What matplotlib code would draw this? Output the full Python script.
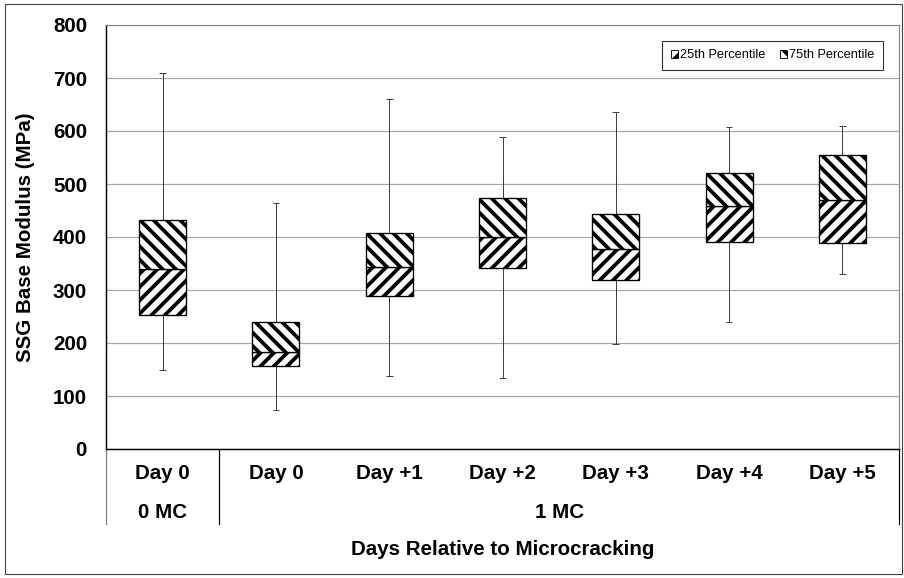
import matplotlib
matplotlib.use("Agg")
import matplotlib.pyplot as plt
import matplotlib.transforms as mtransforms
from matplotlib.patches import Patch, Rectangle
import numpy as np

# categories (two-level x axis)
DAYS = ["Day 0", "Day 0", "Day +1", "Day +2", "Day +3", "Day +4", "Day +5"]
GROUPS = ["0 MC", "1 MC"]
GROUP_SIZES = [1, 6]

# SSG base modulus (MPa)
P_MIN = [149, 73, 138, 134, 198, 240, 330]
P_25 = [253, 157, 289, 341, 319, 391, 389]
P_50 = [340, 183, 344, 400, 377, 458, 470]
P_75 = [433, 240, 407, 474, 443, 521, 555]
P_MAX = [709, 465, 660, 589, 636, 607, 609]

YTICKS = [0, 100, 200, 300, 400, 500, 600, 700, 800]

DPI = 80
W, H = 904, 578
FS = 18.5

plt.rcParams["font.family"] = ["Liberation Sans", "DejaVu Sans"]
plt.rcParams["hatch.linewidth"] = 3.4
plt.rcParams["hatch.color"] = "black"


def main():
    fig = plt.figure(figsize=(W / DPI, H / DPI), dpi=DPI)
    fig.patch.set_facecolor("white")
    ax = fig.add_axes([106 / W, 1 - 449 / H, (899 - 106) / W, (449 - 25) / H])

    x = np.arange(len(DAYS))
    box_w = 0.415
    cap = 0.03

    # whiskers
    ax.vlines(x, P_MIN, P_MAX, color="#404040", lw=0.9, zorder=2)
    ax.hlines(P_MIN, x - cap, x + cap, color="#404040", lw=0.9, zorder=2)
    ax.hlines(P_MAX, x - cap, x + cap, color="#404040", lw=0.9, zorder=2)

    # boxes: lower half (25th -> median) and upper half (median -> 75th)
    ax.bar(x, np.subtract(P_50, P_25), bottom=P_25, width=box_w,
           color="white", edgecolor="black", hatch="//", lw=1.2, zorder=3)
    ax.bar(x, np.subtract(P_75, P_50), bottom=P_50, width=box_w,
           color="white", edgecolor="black", hatch="\\\\", lw=1.2, zorder=3)

    ax.set_xlim(-0.5, len(DAYS) - 0.5)
    ax.set_ylim(0, 800)
    ax.set_yticks(YTICKS)
    ax.set_yticklabels([str(v) for v in YTICKS], fontsize=FS, fontweight="bold")
    ax.tick_params(axis="y", length=0, pad=17)
    ax.set_xticks([])
    ax.set_axisbelow(True)
    ax.yaxis.grid(True, color="#a6a6a6", lw=1.1)

    for side in ["left", "bottom"]:
        ax.spines[side].set_color("black")
        ax.spines[side].set_linewidth(1.3)
    for side in ["top", "right"]:
        ax.spines[side].set_color("#808080")
        ax.spines[side].set_linewidth(1.0)

    # two-level category labels under the axis
    trans = mtransforms.blended_transform_factory(ax.transData, ax.transAxes)
    for i, lab in enumerate(DAYS):
        ax.text(i, -0.058, lab, transform=trans, ha="center", va="center",
                fontsize=FS, fontweight="bold", clip_on=False)

    start = 0
    edges = [-0.5]
    for g, n in zip(GROUPS, GROUP_SIZES):
        center = start + (n - 1) / 2
        ax.text(center, -0.149, g, transform=trans, ha="center", va="center",
                fontsize=FS, fontweight="bold", clip_on=False)
        start += n
        edges.append(start - 0.5)

    for k, e in enumerate(edges):
        ax.plot([e, e], [0, -0.177], transform=trans, clip_on=False,
                color="#808080" if k == 0 else "black", lw=1.1)

    ax.text(0.5, -0.238, "Days Relative to Microcracking", transform=ax.transAxes,
            ha="center", va="center", fontsize=FS, fontweight="bold")

    fig.text(26 / W, 1 - 237 / H, "SSG Base Modulus (MPa)", rotation=90,
             ha="center", va="center", fontsize=FS, fontweight="bold")

    handles = [
        Patch(facecolor="white", edgecolor="black", hatch="//", lw=0.8,
              label="25th Percentile"),
        Patch(facecolor="white", edgecolor="black", hatch="\\\\", lw=0.8,
              label="75th Percentile"),
    ]
    leg = ax.legend(handles=handles, loc="upper right",
                    bbox_to_anchor=(883 / W, 1 - 41 / H),
                    bbox_transform=fig.transFigure, ncol=2, frameon=True,
                    fancybox=False, edgecolor="black", fontsize=11.5,
                    handlelength=0.6, handleheight=0.6, handletextpad=0.15,
                    columnspacing=1.1, borderpad=0.65, borderaxespad=0)
    leg.get_frame().set_linewidth(1.0)

    # outer chart border
    fig.add_artist(Rectangle((5 / W, 4 / H), (902 - 5) / W, (574 - 4) / H,
                             transform=fig.transFigure, fill=False,
                             edgecolor="#404040", lw=1.0))

    fig.savefig("out.png", dpi=DPI, facecolor="white")


if __name__ == "__main__":
    main()
